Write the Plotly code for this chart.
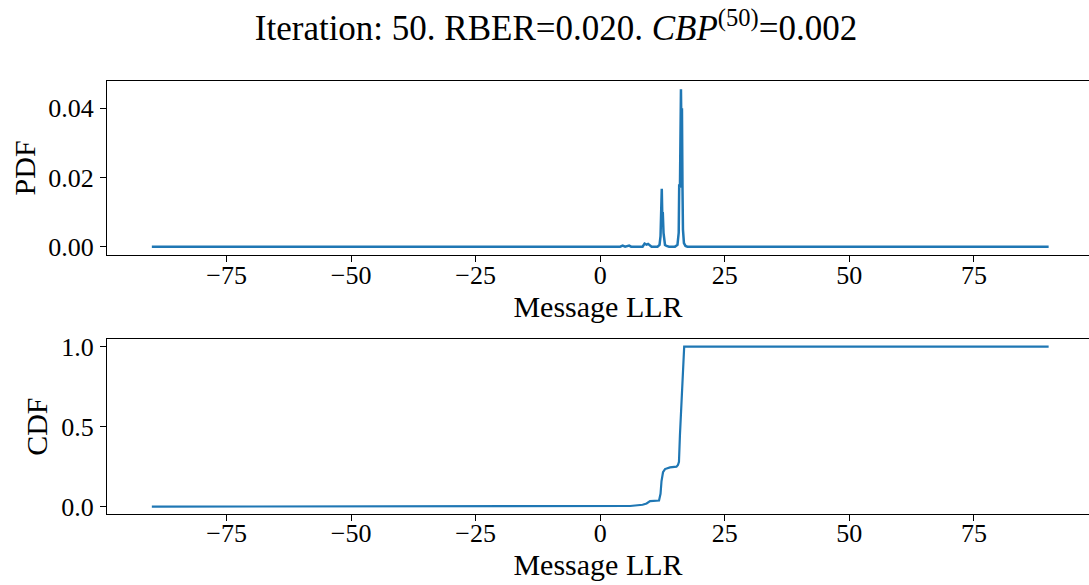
import plotly.graph_objects as go
from plotly.subplots import make_subplots

# ---- data ----
pdf_llr = [-90, 0, 0.8, 1.0, 1.2, 4.0, 4.5, 5.0, 5.8, 6.2, 6.6, 8.5, 8.9, 9.3, 9.6, 9.9, 10.3,
           11.5, 11.9, 12.1, 12.2, 12.35, 12.45, 12.55, 12.7, 12.85, 13.0, 13.3, 13.8,
           15.0, 15.5, 15.75, 15.85, 16.0, 16.1, 16.2, 16.3, 16.4, 16.5, 16.6, 16.8, 17.1, 17.5, 90]
pdf_val = [0, 0, 0, 0.0002, 0, 0, 0.0003, 0, 0.0003, 0, 0, 0, 0.0009, 0.0006, 0.0008, 0.0005, 0,
           0, 0.0005, 0.003, 0.007, 0.0167, 0.009, 0.010, 0.004, 0.002, 0.0005, 0.0002, 0,
           0, 0.0005, 0.004, 0.018, 0.017, 0.034, 0.0455, 0.032, 0.040, 0.018, 0.005, 0.001, 0.0002, 0, 0]

cdf_llr = [-90, 3.5, 6, 8.5, 9.3, 10.0, 11.8, 12.1, 12.3, 12.6, 13.0, 14, 15.3, 15.6, 15.8,
           16.0, 16.2, 16.4, 16.6, 16.75, 16.85, 90]
cdf_val = [0, 0, 0.004, 0.012, 0.02, 0.035, 0.038, 0.08, 0.16, 0.215, 0.235, 0.245, 0.25, 0.26, 0.28,
           0.45, 0.60, 0.75, 0.90, 0.99, 1.0, 1.0]

x_ticks = [-75, -50, -25, 0, 25, 50, 75]
pdf_ticks = [0.0, 0.02, 0.04]
cdf_ticks = [0.0, 0.5, 1.0]

title_text = "Iteration: 50. RBER=0.020. <i>CBP</i><sup>(50)</sup>=0.002"

FONT = "Liberation Serif"
BLUE = "#1f77b4"

fig = make_subplots(rows=2, cols=1)
fig.add_trace(go.Scatter(x=pdf_llr, y=pdf_val, mode="lines",
                         line=dict(color=BLUE, width=2.5), showlegend=False), row=1, col=1)
fig.add_trace(go.Scatter(x=cdf_llr, y=cdf_val, mode="lines",
                         line=dict(color=BLUE, width=2.2), showlegend=False), row=2, col=1)

W, H = 1089, 585
xcommon = dict(range=[-99, 98.1], tickvals=x_ticks, ticks="outside", ticklen=6, tickwidth=1,
               tickcolor="black", showline=True, linecolor="black", linewidth=1.2, mirror=True,
               showgrid=False, zeroline=False, tickfont=dict(family=FONT, size=26, color="black"),
               automargin=False, ticklabelstandoff=-10,
               title=dict(text="Message LLR", font=dict(family=FONT, size=30, color="black"), standoff=6))
ycommon = dict(ticks="outside", ticklen=6, tickwidth=1, tickcolor="black", showline=True,
               linecolor="black", linewidth=1.2, mirror=False, showgrid=False, zeroline=False,
               tickfont=dict(family=FONT, size=26, color="black"), automargin=False,
               ticklabelstandoff=1)

def dom(top_px, bot_px):
    return [1 - bot_px / H, 1 - top_px / H]

fig.update_layout(
    width=W, height=H,
    margin=dict(l=107, r=0, t=0, b=0),
    plot_bgcolor="white", paper_bgcolor="white",
    title=dict(text=title_text, x=556 / W, xanchor="center", y=1 - 28 / H,
               yanchor="middle", xref="container", yref="container",
               font=dict(family=FONT, size=35, color="black")),
    xaxis=dict(domain=[0, 1], **xcommon),
    xaxis2=dict(domain=[0, 1], **xcommon),
    yaxis=dict(domain=dom(80.5, 255.3), range=[-0.0025, 0.0480], tickvals=pdf_ticks,
               tickformat=".2f",
               title=dict(text="PDF", font=dict(family=FONT, size=30, color="black"), standoff=3),
               **ycommon),
    yaxis2=dict(domain=dom(339.3, 514), range=[-0.046, 1.046], tickvals=cdf_ticks,
                tickformat=".1f",
                title=dict(text="CDF", font=dict(family=FONT, size=30, color="black"), standoff=4),
                **ycommon),
)

fig.write_html("out.html", config={"displayModeBar": False},
               post_script="document.body.style.margin='0';document.body.style.overflow='hidden';")
